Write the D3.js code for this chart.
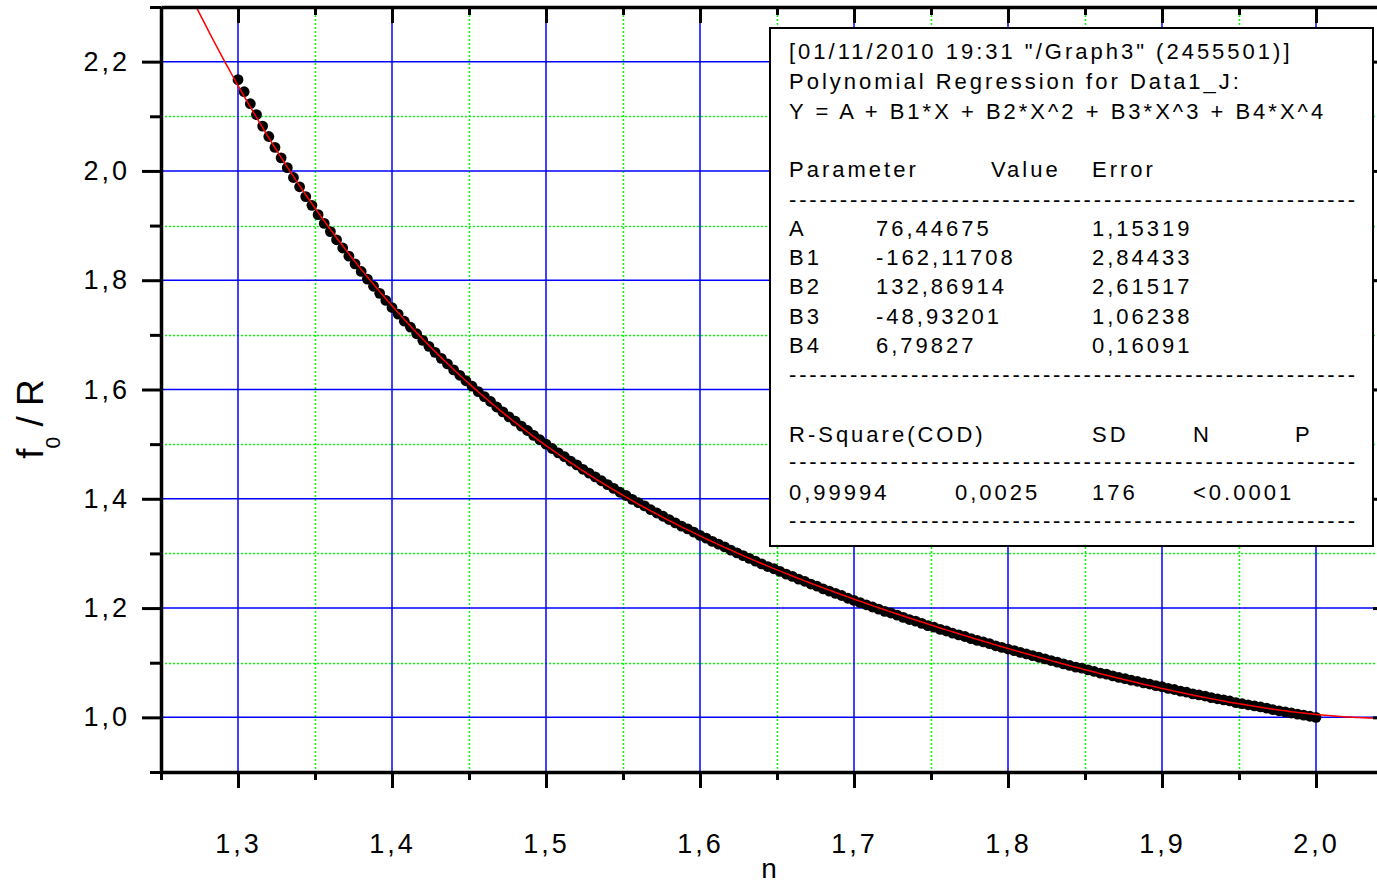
<!DOCTYPE html>
<html>
<head>
<meta charset="utf-8">
<script src="https://cdn.jsdelivr.net/npm/d3@7"></script>
<style>
body{margin:0;background:#fff;}
text{font-family:"Liberation Sans",Arial,sans-serif;}
</style>
</head>
<body>
<svg></svg>
<script>
// n values (176 points, as in the regression output)
var nValues=[
1.300,1.304,1.308,1.312,1.316,1.320,1.324,1.328,1.332,1.336,
1.340,1.344,1.348,1.352,1.356,1.360,1.364,1.368,1.372,1.376,
1.380,1.384,1.388,1.392,1.396,1.400,1.404,1.408,1.412,1.416,
1.420,1.424,1.428,1.432,1.436,1.440,1.444,1.448,1.452,1.456,
1.460,1.464,1.468,1.472,1.476,1.480,1.484,1.488,1.492,1.496,
1.500,1.504,1.508,1.512,1.516,1.520,1.524,1.528,1.532,1.536,
1.540,1.544,1.548,1.552,1.556,1.560,1.564,1.568,1.572,1.576,
1.580,1.584,1.588,1.592,1.596,1.600,1.604,1.608,1.612,1.616,
1.620,1.624,1.628,1.632,1.636,1.640,1.644,1.648,1.652,1.656,
1.660,1.664,1.668,1.672,1.676,1.680,1.684,1.688,1.692,1.696,
1.700,1.704,1.708,1.712,1.716,1.720,1.724,1.728,1.732,1.736,
1.740,1.744,1.748,1.752,1.756,1.760,1.764,1.768,1.772,1.776,
1.780,1.784,1.788,1.792,1.796,1.800,1.804,1.808,1.812,1.816,
1.820,1.824,1.828,1.832,1.836,1.840,1.844,1.848,1.852,1.856,
1.860,1.864,1.868,1.872,1.876,1.880,1.884,1.888,1.892,1.896,
1.900,1.904,1.908,1.912,1.916,1.920,1.924,1.928,1.932,1.936,
1.940,1.944,1.948,1.952,1.956,1.960,1.964,1.968,1.972,1.976,
1.980,1.984,1.988,1.992,1.996,2.000];

// f0 / R values
var f0R=[
2.167,2.145,2.123,2.103,2.082,2.063,2.043,2.024,2.006,1.988,
1.971,1.953,1.937,1.920,1.904,1.889,1.874,1.859,1.844,1.830,
1.816,1.802,1.789,1.776,1.763,1.750,1.738,1.725,1.714,1.702,
1.690,1.679,1.668,1.657,1.647,1.636,1.626,1.616,1.606,1.596,
1.587,1.578,1.568,1.559,1.550,1.542,1.533,1.525,1.516,1.508,
1.500,1.492,1.484,1.477,1.469,1.462,1.454,1.447,1.440,1.433,
1.426,1.419,1.412,1.406,1.399,1.393,1.387,1.380,1.374,1.368,
1.362,1.356,1.350,1.345,1.339,1.333,1.328,1.322,1.317,1.312,
1.306,1.301,1.296,1.291,1.286,1.281,1.276,1.272,1.267,1.262,
1.258,1.253,1.249,1.244,1.240,1.235,1.231,1.227,1.223,1.218,
1.214,1.210,1.206,1.202,1.198,1.194,1.191,1.187,1.183,1.179,
1.176,1.172,1.168,1.165,1.161,1.158,1.154,1.151,1.148,1.144,
1.141,1.138,1.135,1.131,1.128,1.125,1.122,1.119,1.116,1.113,
1.110,1.107,1.104,1.101,1.098,1.095,1.092,1.090,1.087,1.084,
1.081,1.079,1.076,1.073,1.071,1.068,1.066,1.063,1.061,1.058,
1.056,1.053,1.051,1.048,1.046,1.043,1.041,1.039,1.036,1.034,
1.032,1.030,1.027,1.025,1.023,1.021,1.019,1.017,1.014,1.012,
1.010,1.008,1.006,1.004,1.002,1.000];

// fit: Y = A + B1*X + B2*X^2 + B3*X^3 + B4*X^4
var fitCoef=[76.44675,-162.11708,132.86914,-48.93201,6.79827];

var xTicks=[1.3,1.4,1.5,1.6,1.7,1.8,1.9,2.0];
var xMinor=[1.25,1.35,1.45,1.55,1.65,1.75,1.85,1.95,2.05];
var yTicks=[1.0,1.2,1.4,1.6,1.8,2.0,2.2];
var yMinor=[0.9,1.1,1.3,1.5,1.7,1.9,2.1,2.3];

var headerLines=['[01/11/2010 19:31 "/Graph3" (2455501)]',
  'Polynomial Regression for Data1_J:',
  'Y = A + B1*X + B2*X^2 + B3*X^3 + B4*X^4'];
var paramHead=["Parameter","Value","Error"];
var paramNames=["A","B1","B2","B3","B4"];
var paramValues=["76,44675","-162,11708","132,86914","-48,93201","6,79827"];
var paramErrors=["1,15319","2,84433","2,61517","1,06238","0,16091"];
var statHead=["R-Square(COD)","SD","N","P"];
var statValues=["0,99994","0,0025","176","<0.0001"];

var width=1377;
var height=885;
var pLeft=161, pRight=1393, pTop=7, pBottom=772;

var svg=d3.select("svg")
.attr("width",width)
.attr("height",height);

svg.append("rect").attr("width",width).attr("height",height).attr("fill","#fff");

var x=d3.scaleLinear().domain([1.25,2.05]).range([pLeft,pRight]);
var y=d3.scaleLinear().domain([0.9,2.3]).range([pBottom,pTop]);

var fmt=function(d){return d3.format(".1f")(d).replace(".",",");};
// snap thin lines to pixel centres so the dots stay green
var px=function(v){return Math.round(v)+0.5;};

// grid
var grid=svg.append("g");
grid.selectAll(".gxm").data(xMinor).enter().append("line")
.attr("x1",function(d){return px(x(d));}).attr("x2",function(d){return px(x(d));})
.attr("y1",pTop).attr("y2",pBottom)
.attr("stroke","#00ff00").attr("stroke-width",1.5).attr("stroke-dasharray","2,2");
grid.selectAll(".gym").data(yMinor).enter().append("line")
.attr("y1",function(d){return px(y(d));}).attr("y2",function(d){return px(y(d));})
.attr("x1",pLeft).attr("x2",pRight)
.attr("stroke","#00ff00").attr("stroke-width",1.5).attr("stroke-dasharray","2,2");
grid.selectAll(".gx").data(xTicks).enter().append("line")
.attr("x1",function(d){return x(d);}).attr("x2",function(d){return x(d);})
.attr("y1",pTop).attr("y2",pBottom)
.attr("stroke","#0000ff").attr("stroke-width",1.5);
grid.selectAll(".gy").data(yTicks).enter().append("line")
.attr("y1",function(d){return y(d);}).attr("y2",function(d){return y(d);})
.attr("x1",pLeft).attr("x2",pRight)
.attr("stroke","#0000ff").attr("stroke-width",1.5);

svg.append("clipPath").attr("id","plotclip")
.append("rect").attr("x",pLeft).attr("y",pTop).attr("width",pRight-pLeft).attr("height",pBottom-pTop);

// data points
svg.append("g")
.selectAll("circle")
.data(nValues)
.enter()
.append("circle")
.attr("cx",function(d){return x(d);})
.attr("cy",function(d,i){return y(f0R[i]);})
.attr("r",5.4)
.attr("fill","#000");

// fitted polynomial curve
var poly=function(t){
  var s=0;
  for(var k=0;k<fitCoef.length;k++){s+=fitCoef[k]*Math.pow(t,k);}
  return s;
};
var fitX=d3.range(1.25,2.0501,0.002);
svg.append("path")
.datum(fitX)
.attr("clip-path","url(#plotclip)")
.attr("fill","none")
.attr("stroke","#ff0000")
.attr("stroke-width",1.5)
.attr("d",d3.line().x(function(d){return x(d);}).y(function(d){return y(poly(d));}));

// axes
var styleAxis=function(g,showDomain){
  g.selectAll(".tick line").attr("stroke","#000").attr("stroke-width",3);
  if(showDomain){g.select(".domain").attr("stroke","#000").attr("stroke-width",3.5);}
  else{g.select(".domain").remove();}
};

var gb=svg.append("g").attr("transform","translate(0,"+pBottom+")")
.call(d3.axisBottom(x).tickValues(xTicks).tickSize(16).tickSizeOuter(0).tickPadding(46).tickFormat(fmt));
styleAxis(gb,true);
gb.selectAll("text").attr("font-size",27).attr("fill","#000")
.attr("font-family","'Liberation Sans',Arial,sans-serif").style("letter-spacing","3px");
var gbm=svg.append("g").attr("transform","translate(0,"+pBottom+")")
.call(d3.axisBottom(x).tickValues(xMinor).tickSize(8).tickFormat(""));
styleAxis(gbm,false);

var gl=svg.append("g").attr("transform","translate("+pLeft+",0)")
.call(d3.axisLeft(y).tickValues(yTicks).tickSize(19).tickSizeOuter(0).tickPadding(12).tickFormat(fmt));
styleAxis(gl,true);
gl.selectAll("text").attr("font-size",27).attr("fill","#000")
.attr("font-family","'Liberation Sans',Arial,sans-serif").style("letter-spacing","3px");
var glm=svg.append("g").attr("transform","translate("+pLeft+",0)")
.call(d3.axisLeft(y).tickValues(yMinor).tickSize(11).tickFormat(""));
styleAxis(glm,false);

var gt=svg.append("g").attr("transform","translate(0,"+pTop+")")
.call(d3.axisBottom(x).tickValues(xTicks).tickSize(16).tickSizeOuter(0).tickFormat(""));
styleAxis(gt,true);
var gtm=svg.append("g").attr("transform","translate(0,"+pTop+")")
.call(d3.axisBottom(x).tickValues(xMinor).tickSize(8).tickFormat(""));
styleAxis(gtm,false);

var gr=svg.append("g").attr("transform","translate("+pRight+",0)")
.call(d3.axisLeft(y).tickValues(yTicks).tickSize(20).tickSizeOuter(0).tickFormat(""));
styleAxis(gr,true);
var grm=svg.append("g").attr("transform","translate("+pRight+",0)")
.call(d3.axisLeft(y).tickValues(yMinor).tickSize(10).tickFormat(""));
styleAxis(grm,false);

// axis titles
svg.append("text")
.attr("x",769).attr("y",878)
.attr("text-anchor","middle")
.attr("font-size",28)
.text("n");

var yl=svg.append("text")
.attr("transform","translate(43,419) rotate(-90)")
.attr("text-anchor","middle")
.attr("font-size",37);
yl.append("tspan").text("f");
yl.append("tspan").attr("font-size",21).attr("dy",17).text("0");
yl.append("tspan").attr("dy",-17).text(" / R");

// regression results box
var box=svg.append("g");
box.append("rect")
.attr("x",770).attr("y",28).attr("width",603).attr("height",518)
.attr("fill","#fff").attr("stroke","#000").attr("stroke-width",2);

var addText=function(tx,ty,s){
  box.append("text").attr("x",tx).attr("y",ty)
  .attr("font-size",22).style("letter-spacing","3px")
  .attr("fill","#000").text(s);
};
var addDashes=function(ty){
  box.append("text").attr("x",789).attr("y",ty)
  .attr("font-size",22)
  .attr("textLength",566).attr("lengthAdjust","spacing")
  .text("--------------------------------------------------------");
};

headerLines.forEach(function(s,i){addText(789,59+i*30,s);});
var colX=[789,991,1092];
paramHead.forEach(function(s,i){addText(colX[i],177,s);});
addDashes(207);
paramNames.forEach(function(s,i){
  addText(789,236+i*29.2,s);
  addText(876,236+i*29.2,paramValues[i]);
  addText(1092,236+i*29.2,paramErrors[i]);
});
addDashes(382);
var statX=[789,1092,1193,1295];
statHead.forEach(function(s,i){addText(statX[i],442,s);});
addDashes(469);
var statValX=[789,955,1092,1193];
statValues.forEach(function(s,i){addText(statValX[i],500,s);});
addDashes(528);
</script>
</body>
</html>
